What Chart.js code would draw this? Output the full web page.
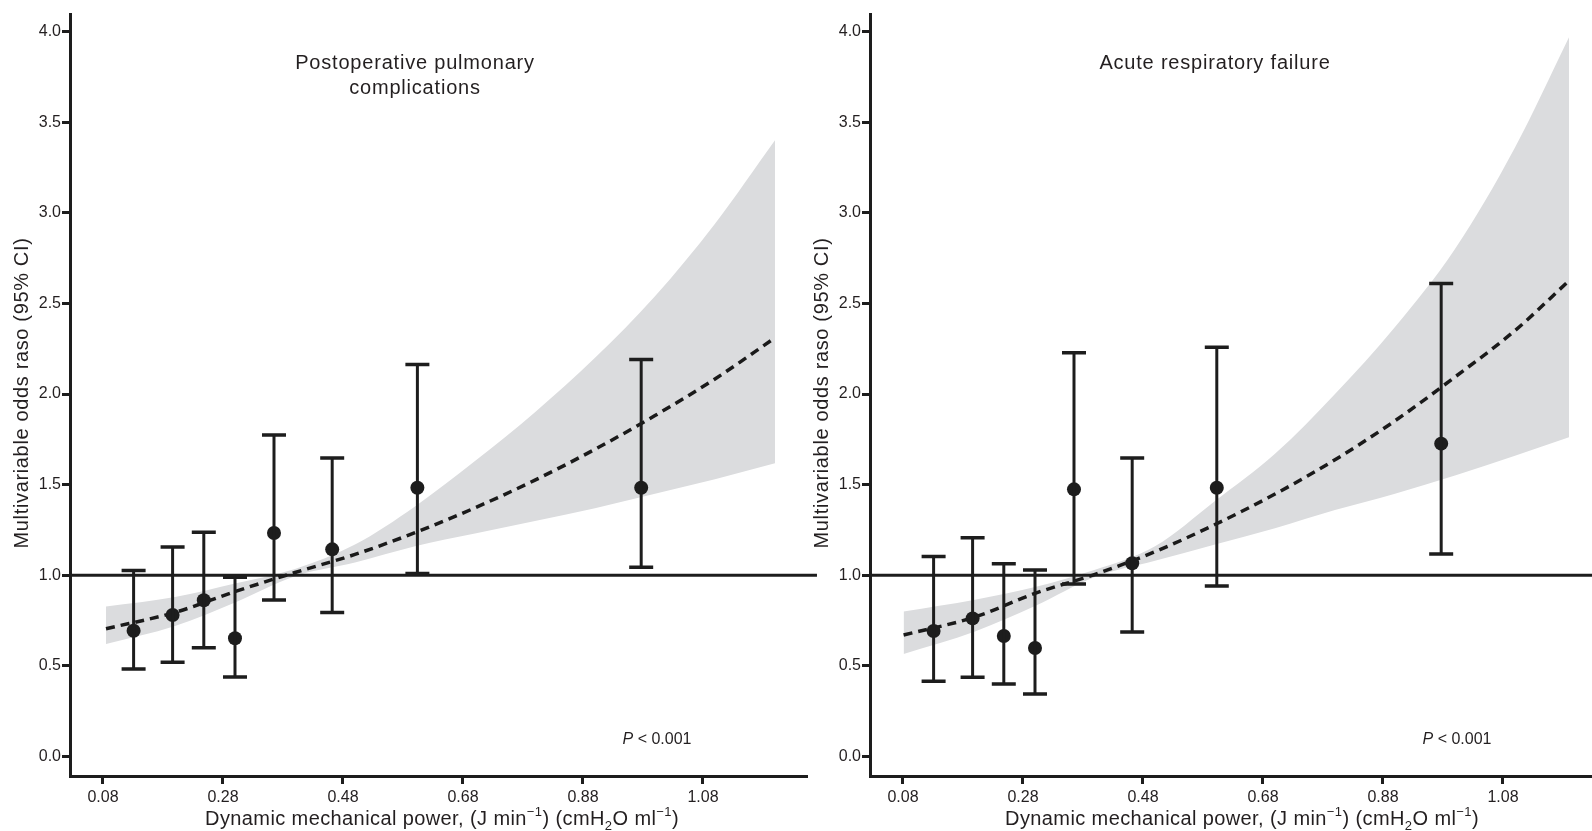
<!DOCTYPE html>
<html>
<head>
<meta charset="utf-8">
<script src="https://cdn.jsdelivr.net/npm/chart.js@4.4.1/dist/chart.umd.min.js"></script>
<style>
html,body{margin:0;padding:0;background:#fff;overflow:hidden;width:1592px;height:831px;position:relative;}
.wrap{position:absolute;top:0;width:830px;height:831px;}
#w1{left:0}
#w2{left:800px}
canvas{display:block}
</style>
</head>
<body>
<div class="wrap" id="w1"><canvas id="c1" width="830" height="831"></canvas></div>
<div class="wrap" id="w2"><canvas id="c2" width="830" height="831"></canvas></div>
<script>
// ---------- shared axis data ----------
const xTicks = [0.08, 0.28, 0.48, 0.68, 0.88, 1.08];
const xTickLabels = ['0.08', '0.28', '0.48', '0.68', '0.88', '1.08'];
const yTicks = [0, 0.5, 1, 1.5, 2, 2.5, 3, 3.5, 4];
const yTickLabels = ['0.0', '0.5', '1.0', '1.5', '2.0', '2.5', '3.0', '3.5', '4.0'];
const xTitleParts = ['Dynamic mechanical power, (J min', '\u22121', ') (cmH', '2', 'O ml', '\u22121', ')'];
const yTitle = 'Multivariable odds raso (95% CI)';
const pText = ['P', ' < 0.001'];

// ---------- panel A: postoperative pulmonary complications ----------
const ppcTitle = ['Postoperative pulmonary', 'complications'];
const ppcX  = [0.131, 0.196, 0.248, 0.300, 0.365, 0.462, 0.604, 0.977];
const ppcOR = [0.694, 0.781, 0.862, 0.652, 1.233, 1.143, 1.483, 1.483];
const ppcLo = [0.483, 0.520, 0.600, 0.439, 0.863, 0.795, 1.010, 1.044];
const ppcHi = [1.026, 1.156, 1.237, 0.989, 1.774, 1.647, 2.163, 2.191];
const ppcCurveX = [0.085, 0.2, 0.3, 0.4, 0.5, 0.6, 0.7, 0.8, 0.9, 1.0, 1.1, 1.2];
const ppcFit    = [0.705, 0.795, 0.91, 1.015, 1.115, 1.235, 1.372, 1.525, 1.695, 1.881, 2.083, 2.31];
const ppcUpper  = [0.827, 0.88, 0.955, 1.035, 1.17, 1.38, 1.63, 1.90, 2.20, 2.54, 2.94, 3.40];
const ppcLower  = [0.621, 0.72, 0.85, 0.995, 1.07, 1.16, 1.23, 1.30, 1.37, 1.45, 1.53, 1.618];

// ---------- panel B: acute respiratory failure ----------
const arfTitle = ['Acute respiratory failure'];
const arfX  = [0.131, 0.196, 0.248, 0.300, 0.365, 0.462, 0.603, 0.977];
const arfOR = [0.692, 0.762, 0.665, 0.599, 1.474, 1.066, 1.483, 1.726];
const arfLo = [0.415, 0.437, 0.400, 0.345, 0.952, 0.687, 0.941, 1.117];
const arfHi = [1.104, 1.207, 1.064, 1.029, 2.228, 1.647, 2.258, 2.609];
const arfCurveX = [0.081, 0.2, 0.3, 0.4, 0.5, 0.6, 0.7, 0.8, 0.9, 1.0, 1.1, 1.19];
const arfFit    = [0.670, 0.77, 0.90, 1.005, 1.13, 1.28, 1.448, 1.637, 1.852, 2.094, 2.35, 2.625];
const arfUpper  = [0.80, 0.865, 0.935, 1.03, 1.16, 1.41, 1.67, 2.00, 2.37, 2.80, 3.36, 3.968];
const arfLower  = [0.566, 0.69, 0.83, 0.99, 1.08, 1.17, 1.26, 1.36, 1.45, 1.55, 1.66, 1.761];

// ---------- styling ----------
const AXIS = '#1d1d1d';
const TXT = '#231f20';
const BAND = '#dbdcde';
const FONT = "'Liberation Sans', Arial, Helvetica, sans-serif";
const X_MIN = 0.025, X_MAX = 1.2517;
const Y_MIN = -0.1076, Y_MAX = 4.0966;
const REF_END = 1.27;

Chart.defaults.font.family = FONT;

function pts(xs, ys) { return xs.map((v, i) => ({ x: v, y: ys[i] })); }

function errorBarsPlugin(d) {
  return {
    id: 'errorBars',
    afterDatasetsDraw(chart) {
      const c = chart.ctx, sx = chart.scales.x, sy = chart.scales.y;
      c.save();
      c.strokeStyle = AXIS;
      c.lineCap = 'butt';
      d.x.forEach((v, i) => {
        const px = sx.getPixelForValue(v);
        const pl = sy.getPixelForValue(d.lo[i]);
        const ph = sy.getPixelForValue(d.hi[i]);
        c.lineWidth = 3;
        c.beginPath(); c.moveTo(px, pl); c.lineTo(px, ph); c.stroke();
        c.lineWidth = 3.5;
        c.beginPath();
        c.moveTo(px - 12, ph); c.lineTo(px + 12, ph);
        c.moveTo(px - 12, pl); c.lineTo(px + 12, pl);
        c.stroke();
      });
      c.restore();
    }
  };
}

function textPlugin(d) {
  return {
    id: 'texts',
    afterDraw(chart) {
      const c = chart.ctx, a = chart.chartArea;
      c.save();
      c.fillStyle = TXT;
      // panel title
      c.font = '20px ' + FONT;
      c.letterSpacing = '0.8px';
      c.textAlign = 'center';
      c.textBaseline = 'middle';
      d.title.forEach((t, i) => c.fillText(t, a.left + 345, 63 + i * 25));
      // y-axis title
      c.save();
      c.letterSpacing = '0.65px';
      c.translate(22, (a.top + a.bottom) / 2 - 2);
      c.rotate(-Math.PI / 2);
      c.fillText(yTitle, 0, 0);
      c.restore();
      // x-axis title with super/subscripts
      c.letterSpacing = '0.4px';
      c.textAlign = 'left';
      c.textBaseline = 'alphabetic';
      const big = '20px ' + FONT, small = '13px ' + FONT;
      const styles = [0, 1, 0, 2, 0, 1, 0];
      let total = 0;
      xTitleParts.forEach((s, i) => { c.font = styles[i] ? small : big; total += c.measureText(s).width; });
      let x = a.left + 372 - total / 2;
      const base = 825;
      xTitleParts.forEach((s, i) => {
        c.font = styles[i] ? small : big;
        const dy = styles[i] === 1 ? -9 : (styles[i] === 2 ? 5 : 0);
        c.fillText(s, x, base + dy);
        x += c.measureText(s).width;
      });
      // P < 0.001
      c.letterSpacing = '0px';
      c.textBaseline = 'middle';
      c.font = 'italic 16px ' + FONT;
      const w1 = c.measureText(pText[0]).width;
      c.font = '16px ' + FONT;
      const w2 = c.measureText(pText[1]).width;
      let px = a.left + 587 - (w1 + w2) / 2;
      c.font = 'italic 16px ' + FONT;
      c.fillText(pText[0], px, 740);
      c.font = '16px ' + FONT;
      c.fillText(pText[1], px + w1, 740);
      c.restore();
    }
  };
}

function panel(id, d) {
  return new Chart(document.getElementById(id), {
    type: 'scatter',
    data: {
      datasets: [
        { type: 'scatter', data: pts(d.x, d.or), pointRadius: 7, pointHoverRadius: 7,
          backgroundColor: AXIS, borderWidth: 0, order: 0 },
        { type: 'line', data: pts(d.cx, d.fit), borderColor: '#1a1a1a', borderWidth: 3.5,
          borderDash: [9, 6], pointRadius: 0, fill: false, cubicInterpolationMode: 'monotone', order: 1 },
        { type: 'line', data: [{ x: X_MIN, y: 1 }, { x: REF_END, y: 1 }], borderColor: AXIS,
          borderWidth: 3, pointRadius: 0, fill: false, clip: false, order: 2 },
        { type: 'line', data: pts(d.cx, d.up), borderWidth: 0, borderColor: 'rgba(0,0,0,0)',
          pointRadius: 0, fill: '+1', backgroundColor: BAND, cubicInterpolationMode: 'monotone', order: 3 },
        { type: 'line', data: pts(d.cx, d.low), borderWidth: 0, borderColor: 'rgba(0,0,0,0)',
          pointRadius: 0, fill: false, cubicInterpolationMode: 'monotone', order: 4 }
      ]
    },
    options: {
      responsive: false,
      animation: false,
      events: [],
      layout: { padding: { top: 14, right: 24, bottom: 0, left: 0 } },
      plugins: { legend: { display: false }, tooltip: { enabled: false }, title: { display: false } },
      scales: {
        x: {
          type: 'linear', min: X_MIN, max: X_MAX,
          afterBuildTicks: s => { s.ticks = xTicks.map(v => ({ value: v })); },
          afterFit: s => { s.height = 55; },
          grid: { drawOnChartArea: false, drawTicks: true, tickLength: 8, lineWidth: 3, color: AXIS, tickColor: AXIS },
          border: { display: true, color: AXIS, width: 3 },
          ticks: { callback: (v, i) => xTickLabels[i], font: { size: 16, family: FONT }, color: TXT,
                   padding: 4, maxRotation: 0, autoSkip: false }
        },
        y: {
          type: 'linear', min: Y_MIN, max: Y_MAX,
          afterBuildTicks: s => { s.ticks = yTicks.map(v => ({ value: v })); },
          afterFit: s => { s.width = 70; },
          grid: { drawOnChartArea: false, drawTicks: true, tickLength: 8, lineWidth: 3, color: AXIS, tickColor: AXIS },
          border: { display: true, color: AXIS, width: 3 },
          ticks: { callback: (v, i) => yTickLabels[i], font: { size: 16, family: FONT }, color: TXT,
                   padding: 1, autoSkip: false }
        }
      }
    },
    plugins: [errorBarsPlugin(d), textPlugin(d)]
  });
}

panel('c1', { title: ppcTitle, x: ppcX, or: ppcOR, lo: ppcLo, hi: ppcHi,
              cx: ppcCurveX, fit: ppcFit, up: ppcUpper, low: ppcLower });
panel('c2', { title: arfTitle, x: arfX, or: arfOR, lo: arfLo, hi: arfHi,
              cx: arfCurveX, fit: arfFit, up: arfUpper, low: arfLower });
</script>
</body>
</html>
